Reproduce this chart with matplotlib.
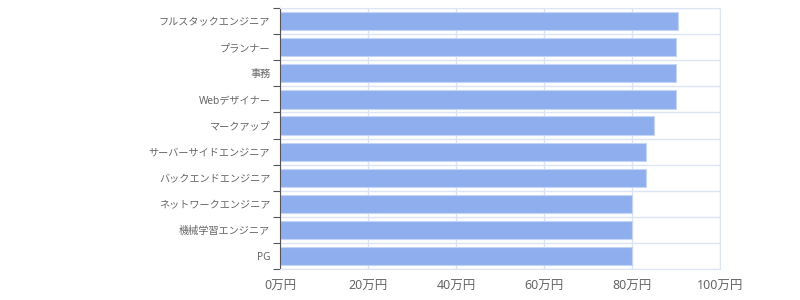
import matplotlib
matplotlib.use("Agg")
import matplotlib.pyplot as plt
import numpy as np

plt.rcParams['font.family'] = ['Noto Sans', 'Noto Sans CJK JP', 'DejaVu Sans']

# 職種ごとの値 (万円)
jobs = ["フルスタックエンジニア", "プランナー", "事務", "Webデザイナー", "マークアップ",
        "サーバーサイドエンジニア", "バックエンドエンジニア", "ネットワークエンジニア",
        "機械学習エンジニア", "PG"]
values = [90.4, 90, 90, 90, 85, 83.2, 83.2, 80, 80, 80]
xticks = [0, 20, 40, 60, 80, 100]
xlabels = ["{}万円".format(t) for t in xticks]

fig = plt.figure(figsize=(8, 3), dpi=100)
ax = fig.add_axes([0.35, 0.103, 0.55, 0.870])

pos = np.arange(len(jobs))
ax.barh(pos, values, height=0.7, color="#8eaeee", edgecolor="#c6d5f5", linewidth=0.8, zorder=2)

ax.set_xlim(0, 100)
ax.set_ylim(len(jobs) - 0.5, -0.5)

ax.set_yticks(pos)
ax.set_yticklabels(jobs, fontsize=7.3, color="#666666")
ax.tick_params(axis="y", which="major", length=0, pad=7)
ax.set_yticks(np.arange(len(jobs) + 1) - 0.5, minor=True)
ax.tick_params(axis="y", which="minor", length=5, color="#555555", width=0.8)

ax.set_xticks(xticks)
ax.set_xticklabels(xlabels, fontsize=9, color="#666666")
ax.tick_params(axis="x", length=0, pad=8)

ax.grid(axis="y", which="minor", color="#dde4f2", linewidth=1, zorder=1)
ax.grid(axis="x", which="major", color="#6e8fd6", alpha=0.25, linewidth=1, zorder=3)

for s in ["top", "right", "bottom"]:
    ax.spines[s].set_color("#dde4f2")
ax.spines["left"].set_color("#555555")
ax.spines["left"].set_linewidth(0.8)

fig.savefig("out.png", dpi=100)
